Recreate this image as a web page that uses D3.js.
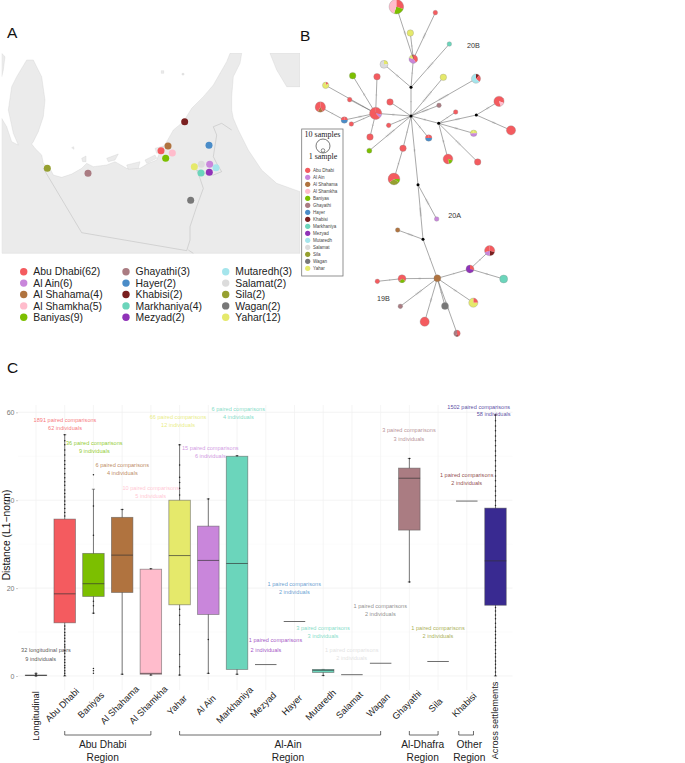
<!DOCTYPE html>
<html><head><meta charset="utf-8">
<script src="https://cdn.jsdelivr.net/npm/d3@7/dist/d3.min.js"></script>
<style>html,body{margin:0;padding:0;background:#fff}svg{display:block;font-family:"Liberation Sans",Arial,sans-serif}</style>
</head><body><svg id="c" width="685" height="763"></svg>
<script>
// ---------- settlements ----------
const settlements=["Abu Dhabi","Al Ain","Al Shahama","Al Shamkha","Baniyas","Ghayathi","Hayer","Khabisi","Markhaniya","Mezyad","Mutaredh","Salamat","Sila","Wagan","Yahar"];
const sampleCounts=[62,6,4,5,9,3,2,2,4,2,3,2,2,2,12];
const settlementColors=["#F45B5F","#C986DB","#B0733F","#FFBCCC","#7CBF00","#AA7C82","#4A8CC8","#7A1F1F","#6BD5BB","#9033B8","#A5E5EC","#DCDCDC","#96A030","#787878","#E5E96B"];
const settlementLon=[54.37,55.587,54.545,54.653,54.487,52.545,55.57,54.962,55.37,55.578,55.745,55.378,51.528,55.112,55.203];
const settlementLat=[24.455,24.145,24.561,24.402,24.281,23.94,24.577,25.114,23.948,23.963,24.069,24.145,24.054,23.327,24.092];
// ---------- base map (lon, lat) ----------
const landMain=[[50.387,25.19],[50.512,25.0],[50.637,24.66],[50.803,24.584],[50.678,24.849],[50.553,25.38],[50.637,25.91],[50.762,26.137],[51.012,26.516],[51.178,26.516],[51.387,26.137],[51.47,25.607],[51.428,25.228],[51.303,24.887],[51.178,24.66],[51.137,24.607],[51.22,24.508],[51.387,24.357],[51.428,24.167],[51.595,24.054],[51.678,23.902],[51.887,23.849],[52.137,23.925],[52.387,24.054],[52.512,24.167],[52.678,24.092],[53.012,24.13],[53.22,24.205],[53.512,24.054],[53.845,24.054],[54.053,24.167],[54.262,24.243],[54.345,24.433],[54.512,24.66],[54.678,24.925],[54.928,25.114],[55.137,25.417],[55.428,25.683],[55.678,25.948],[55.845,26.213],[56.012,26.478],[56.095,26.667],[56.387,26.667],[56.345,26.44],[56.178,26.137],[56.137,25.683],[56.137,25.38],[56.178,25.19],[56.303,24.925],[56.553,24.47],[56.887,24.016],[57.262,23.713],[57.845,23.524],[57.845,22.122],[50.387,22.122]];
const landOther=[
 [[57.095,26.667],[57.845,26.667],[57.845,25.91],[57.512,25.91],[57.262,26.289]],
 [[50.387,26.667],[50.47,26.592],[50.428,26.289],[50.387,26.137]],
 [[53.512,24.13],[53.845,24.205],[53.803,24.054],[53.553,24.031]],
 [[53.012,24.281],[53.303,24.38],[53.22,24.243],[53.053,24.205]],
 [[52.387,24.281],[52.495,24.334],[52.495,24.205],[52.412,24.205]],
 [[52.137,24.523],[52.187,24.546],[52.195,24.486]],
 [[53.97,24.243],[54.22,24.357],[54.262,24.281],[54.012,24.167]],
 [[54.22,24.508],[54.428,24.561],[54.428,24.433],[54.262,24.395]],
 [[54.378,26.273],[54.437,26.273],[54.437,26.213],[54.378,26.213]],
 [[54.895,26.213],[54.945,26.213],[54.945,26.175],[54.895,26.175]]];
const borders=[
 [[51.428,24.054],[52.387,22.592],[55.012,22.183],[55.095,22.425],[55.095,22.728],[55.262,23.183],[55.428,23.599],[55.345,23.826],[55.262,24.016]],
 [[55.262,24.016],[55.4,23.95],[55.678,23.902],[55.887,23.978],[55.762,24.167],[55.678,24.319],[55.762,24.811],[55.678,25.0],[55.887,25.077],[56.137,24.925]],
 [[55.053,22.198],[55.178,22.122]]];
// ---------- network: [id, layoutU, layoutV, samples, composition] ----------
const networkNodes=[
["n1",304,20,10,[[0,3],[4,2.5],[3,4.5]]],["n2",421,38,1,[[0,1]]],["n3",346,99,2,[[14,1]]],["n4",463,132,1,[[8,1]]],
["n5",355,177,3.5,[[0,4],[1,4],[14,1.6],[7,.4]]],["n6",267,193,3,[[14,.25],[11,.75]]],["n7",173,227,2,[[4,1]]],["n8",246,230,2,[[0,1]]],
["n9",445,232,2,[[14,1]]],["n10",543,236,4,[[7,.12],[0,.25],[10,.63]]],["n11",92,256,2,[[0,.15],[14,.85]]],["n12",76,321,5,[[0,.42],[2,.16],[0,.42]]],
["n13",164,299,1,[[0,1]]],["n14",285,306,2,[[0,1]]],["n15",432,316,1,[[5,1]]],["n16",612,304,5,[[0,.3],[3,.15],[0,.55]]],
["n17",482,336,1,[[0,1]]],["n18",242,340,7,[[0,.28],[1,.1],[0,.62]]],["n19",148,360,2,[[0,.25],[6,.5],[0,.25]]],["n20",169,372,1,[[0,1]]],
["n21",281,376,1,[[0,1]]],["n22",648,391,4,[[0,1]]],["n23",536,400,2,[[14,.25],[1,.5],[14,.25]]],["n24",401,414,2,[[0,.25],[6,.5],[0,.25]]],
["n25",225,411,2,[[0,1]]],["n26",324,445,2,[[0,1]]],["n27",223,452,1.2,[[4,1]]],["n28",459,477,4.5,[[0,.3],[4,.17],[0,.53]]],
["n29",548,486,2,[[0,1]]],["n30",297,537,6.5,[[0,.25],[4,.1],[12,.3],[0,.35]]],
["n31",425,657,1,[[1,1]]],["n32",308,690,1,[[2,1]]],["n33",584,752,5,[[0,.3],[7,.2],[1,.2],[0,.3]]],["n34",525,807,3,[[0,.3],[9,.7]]],
["n35",427,835,2.3,[[2,1]]],["n36",321,836,3,[[0,.35],[4,.25],[2,.05],[0,.35]]],["n37",247,844,1,[[0,1]]],["n38",626,837,3,[[8,1]]],
["n39",316,919,1,[[5,1]]],["n40",535,908,4,[[0,.25],[14,.75]]],["n41",450,918,2.3,[[13,1]]],["n42",389,965,4,[[0,1]]],["n43",486,1000,2,[[0,.42],[7,.1],[5,.42]]]];
const junctions=[["j1",348,262],["j2",348,348],["j3",431,370],["j4",544,345],["j5",369,554],["j6",384,718]];
const edges=[["n1","n5",3],["n3","n5",1],["n2","n5",5],["n5","j1",1],["n4","j1",8],["n6","j1",3],["j1","j2",1],["j2","n14",1],["j2","n18",2],["j2","n21",1],["j2","n9",12],["j2","n10",10],["j2","n15",6],["j2","n24",2],["j2","n27",10],["j2","n26",1],["j2","j3",2],["j2","j5",2],["n26","n30",1],["j3","j4",4],["j4","n16",3],["j4","n22",3],["j3","n17",1],["j3","n23",3],["j3","n28",2],["j3","n29",6],["n18","n7",2],["n18","n8",1],["n18","n11",2],["n18","n13",1],["n18","n19",3],["n18","n20",1],["n18","n25",1],["n19","n12",1],["j5","n31",6],["j5","j6",8],["j6","n32",5],["j6","n35",1],["n35","n34",1],["n34","n33",1],["n34","n38",2],["n35","n36",2],["n36","n37",1],["n35","n39",7],["n35","n40",3],["n35","n41",1],["n35","n42",3],["n35","n43",8]];
const cladeLabels=[["20B",535,136],["20A",479,645],["19B",265,896]];
// ---------- boxplot ----------
const boxCats=["Longitudinal","Abu Dhabi","Baniyas","Al Shahama","Al Shamkha","Yahar","Al Ain","Markhaniya","Mezyad","Hayer","Mutaredh","Salamat","Wagan","Ghayathi","Sila","Khabisi","Across settlements"];
const boxColors=["#222222","#F45B5F","#7CBF00","#B0733F","#FFBCCC","#E5E96B","#C986DB","#6BD5BB","#9033B8","#4A8CC8","#6BD5BB","#DCDCDC","#787878","#AA7C82","#96A030","#7A1F1F","#392A91"];
const q1Values=[0.1,12.1,18.1,19,0.4,16.2,14,1.5,2.6,12.4,0.8,0.3,2.9,33.2,3.3,39.8,16.1];
const medianValues=[0.15,18.7,21,27.5,0.6,27.4,26.3,25.6,2.6,12.4,1.3,0.3,2.9,45,3.3,39.8,26.2];
const q3Values=[0.2,35.7,27.9,36.1,24.3,40,34.1,50,2.6,12.4,1.5,0.3,2.9,47.3,3.3,39.8,38.2];
const whiskerLow=[0,0,14.3,0.4,0.2,0.2,0.6,0.4,2.6,12.4,0.1,0.3,2.9,21.4,3.3,39.8,0];
const whiskerHigh=[0.6,54.9,42.5,37.9,24.4,52.6,40.3,50.1,2.6,12.4,1.5,0.3,2.9,49.5,3.3,39.8,59.4];
const outlierValues=[
 [0.6,0.3,0],
 [0.1,0.6,1.2,1.9,2.4,3.1,3.7,4.4,5.2,5.8,6.6,7.1,7.9,8.6,9.3,9.9,10.7,11.4,36.4,37.2,38.1,39,39.8,40.7,41.5,42.3,43.4,44.2,45.1,46,47.2,48.1,49,50.3,51.4,52.6,53.5,54.9],
 [45.8,38.7,32,14.3,16,17,1.7,1.2,0.6],
 [0.4,37.9],[0.2,24.4],
 [0.2,2.1,4.9,11.7,13.8,15.2,41.2,42.7,44,45.2,48,52.6],
 [0.6,8.3,40.3],[0.4,50.1],[],[],[0.1],[],[],[21.4,49.5],[],[],
 [0.1,0.9,1.8,2.7,3.4,4.3,5.1,6,6.9,7.7,8.6,9.4,10.2,11.1,12,13,13.9,14.8,15.6,38.8,39.9,41,42.1,43.2,44.4,45.5,46.7,47.8,49,50.1,51.2,52.4,53.5,54.6,55.8,56.9,58.1,59.4]];
const annotLine1=["32 longitudinal pairs","1891 paired comparisons","36 paired comparisons","6 paired comparisons","10 paired comparisons","66 paired comparisons","15 paired comparisons","6 paired comparisons","1 paired comparisons","1 paired comparisons","3 paired comparisons","1 paired comparisons","1 paired comparisons","3 paired comparisons","1 paired comparisons","1 paired comparisons","1502 paired comparisons"];
const annotLine2=["9 individuals","62 individuals","9 individuals","4 individuals","5 individuals","12 individuals","6 individuals","4 individuals","2 individuals","2 individuals","3 individuals","2 individuals","2 individuals","3 individuals","2 individuals","2 individuals","58 individuals"];
const annotLayout=[[46,650,40.7,658.5],[65,420,65,428],[94.3,443.3,94.3,451.3],[122.3,465,122.3,473],[150.7,488,150.7,495.7],[178,416.7,178,424.7],[210.3,447.7,210.3,455.7],[238.3,408.7,238.3,416.7],[275.5,640.3,266,650],[294.3,584.3,294.3,592.3],[323,628.3,323,636.3],[351.7,650,351.7,658],[380.3,606,380.3,614],[409,430.3,409,438.7],[438,628.3,438,636.3],[466.7,474.7,466.7,482.7],[478.7,406.7,493.7,414.3]];
const regions=[["Abu Dhabi","Abu Dhabi","Al Shamkha",102.7],["Al-Dhafra","Ghayathi","Sila",422.7],["Al-Ain","Yahar","Wagan",288],["Other","Khabisi","Khabisi",469.3]];
const yTicks=[0,20,40,60];
const yMinorGrid=[10,30,50];

const svg=d3.select("#c");
const clr=i=>settlementColors[i];
function letter(t,x,y){svg.append("text").attr("x",x).attr("y",y).attr("font-size",15.5).attr("fill","#111").text(t);}
letter("A",7,38);letter("B",300,41);letter("C",7,373);

// ===== Panel A =====
const lonX=d3.scaleLinear().domain([50.345,57.845]).range([0,300]);
const latY=d3.scaleLinear().domain([27.88,22.88]).range([0,220]);
svg.append("clipPath").attr("id","mapclip").append("rect").attr("x",1.7).attr("y",53).attr("width",298.3).attr("height",201);
const mapG=svg.append("g").attr("clip-path","url(#mapclip)");
const geoLine=d3.line().x(d=>lonX(d[0])).y(d=>latY(d[1])).curve(d3.curveLinear);
[landMain,...landOther].forEach(p=>mapG.append("path").attr("d",geoLine(p)+"Z").attr("fill","#EBEBEB").attr("stroke","#c8c8c8").attr("stroke-width",.3));
borders.forEach(p=>mapG.append("path").attr("d",geoLine(p)).attr("fill","none").attr("stroke","#b4b4b4").attr("stroke-width",.45));
mapG.selectAll("circle.s").data(settlements).join("circle").attr("class","s")
 .attr("cx",(d,i)=>lonX(settlementLon[i])).attr("cy",(d,i)=>latY(settlementLat[i])).attr("r",3.5).attr("fill",(d,i)=>clr(i));
const legCol=d3.scaleOrdinal().domain([0,1,2]).range([23.7,126,225.7]);
const legY=d3.scaleLinear().domain([0,4]).range([271.7,317.3]);
settlements.forEach((s,i)=>{
  const c=Math.floor(i/5),r=i%5,x=legCol(c);
  svg.append("circle").attr("cx",x).attr("cy",legY(r)).attr("r",3.7).attr("fill",clr(i));
  svg.append("text").attr("x",x+9.6).attr("y",legY(r)+3.6).attr("font-size",10.4).attr("fill","#222").text(`${s}(${sampleCounts[i]})`);
});

// ===== Panel B =====
const netX=d3.scaleLinear().domain([0,240*3]).range([295,535]);
const netY=d3.scaleLinear().domain([0,1050]).range([0,350]);
const netR=d3.scaleSqrt().domain([0,10]).range([0,7.3]);
const pos={};
networkNodes.forEach(n=>pos[n[0]]=[netX(n[1]),netY(n[2])]);
junctions.forEach(n=>pos[n[0]]=[netX(n[1]),netY(n[2])]);
const netG=svg.append("g");
edges.forEach(([a,b,m])=>{
  const [x1,y1]=pos[a],[x2,y2]=pos[b];
  netG.append("line").attr("x1",x1).attr("y1",y1).attr("x2",x2).attr("y2",y2).attr("stroke","#6e6e6e").attr("stroke-width",.6);
  const L=Math.hypot(x2-x1,y2-y1),ux=(x2-x1)/L,uy=(y2-y1)/L;
  for(let k=0;k<m;k++){
    const t=L/2+(k-(m-1)/2)*1.1,cx=x1+ux*t,cy=y1+uy*t;
    netG.append("line").attr("x1",cx-uy*1).attr("y1",cy+ux*1).attr("x2",cx+uy*1).attr("y2",cy-ux*1).attr("stroke","#8a8a8a").attr("stroke-width",.3);
  }
});
const pie=d3.pie().sort(null).value(d=>d[1]);
const arc=d3.arc().innerRadius(0);
networkNodes.forEach(n=>{
  const g=netG.append("g").attr("transform",`translate(${pos[n[0]]})`),r=netR(n[3]);
  g.selectAll("path").data(pie(n[4])).join("path").attr("d",d=>arc.outerRadius(r)(d)).attr("fill",d=>clr(d.data[0]));
  g.append("circle").attr("r",r).attr("fill","none").attr("stroke","#8a8a8a").attr("stroke-width",.3);
});
junctions.forEach(n=>netG.append("circle").attr("cx",pos[n[0]][0]).attr("cy",pos[n[0]][1]).attr("r",1.5).attr("fill","#000"));
cladeLabels.forEach(l=>svg.append("text").attr("x",netX(l[1])).attr("y",netY(l[2])+2.5).attr("text-anchor","middle").attr("font-size",7.2).attr("fill","#333").text(l[0]));
// network legend
const lg=svg.append("g");
lg.append("rect").attr("x",301.7).attr("y",129).attr("width",41.3).attr("height",147).attr("fill","#fff").attr("stroke","#777").attr("stroke-width",.8);
lg.append("text").attr("x",322.5).attr("y",137).attr("text-anchor","middle").attr("font-family","Liberation Serif").attr("font-size",8).attr("fill","#222").text("10 samples");
lg.append("circle").attr("cx",323).attr("cy",146).attr("r",7).attr("fill","none").attr("stroke","#222").attr("stroke-width",.6);
lg.append("circle").attr("cx",323).attr("cy",150.5).attr("r",1.8).attr("fill","none").attr("stroke","#222").attr("stroke-width",.5);
lg.append("text").attr("x",323).attr("y",159).attr("text-anchor","middle").attr("font-family","Liberation Serif").attr("font-size",8).attr("fill","#222").text("1 sample");
const nlY=d3.scaleLinear().domain([0,14]).range([170.3,268.3]);
settlements.forEach((s,i)=>{
  lg.append("circle").attr("cx",307.7).attr("cy",nlY(i)).attr("r",2.6).attr("fill",clr(i));
  lg.append("text").attr("x",313).attr("y",nlY(i)+1.6).attr("font-size",4.5).attr("fill","#444").text(s);
});

// ===== Panel C =====
const x=d3.scalePoint().domain(boxCats).range([36,495.5]);
const y=d3.scaleLinear().domain([0,60]).range([676,412.3]);
const bw=21.5;
const grid=svg.append("g");
yTicks.forEach(v=>grid.append("line").attr("x1",18).attr("x2",512.5).attr("y1",y(v)).attr("y2",y(v)).attr("stroke","#efefef").attr("stroke-width",.7));
yMinorGrid.forEach(v=>grid.append("line").attr("x1",18).attr("x2",512.5).attr("y1",y(v)).attr("y2",y(v)).attr("stroke","#f6f6f6").attr("stroke-width",.5));
boxCats.forEach(c=>grid.append("line").attr("x1",x(c)).attr("x2",x(c)).attr("y1",405).attr("y2",690).attr("stroke","#f1f1f1").attr("stroke-width",.7));
const yAxis=d3.axisLeft(y).tickValues(yTicks).tickSize(2).tickPadding(1.5);
const ya=svg.append("g").attr("transform","translate(18,0)").call(yAxis);
ya.select(".domain").remove();
ya.selectAll("line").attr("stroke","#999").attr("stroke-width",.5);
ya.selectAll("text").attr("font-size",7).attr("fill","#777").attr("font-family","Liberation Sans");
svg.append("text").attr("transform","translate(10,535) rotate(-90)").attr("text-anchor","middle").attr("font-size",10.3).attr("fill","#111").text("Distance (L1\u2212norm)");

const boxes=svg.append("g");
boxCats.forEach((c,i)=>{
  const cx=x(c),col=boxColors[i];
  boxes.append("line").attr("x1",cx).attr("x2",cx).attr("y1",y(whiskerLow[i])).attr("y2",y(whiskerHigh[i])).attr("stroke","#555").attr("stroke-width",.8);
  if(whiskerHigh[i]>whiskerLow[i]){[whiskerLow[i],whiskerHigh[i]].forEach(v=>boxes.append("line").attr("x1",cx-1.6).attr("x2",cx+1.6).attr("y1",y(v)).attr("y2",y(v)).attr("stroke","#444").attr("stroke-width",.6));}
  const h=y(q1Values[i])-y(q3Values[i]);
  if(h>0.01){
    boxes.append("rect").attr("x",cx-bw/2).attr("y",y(q3Values[i])).attr("width",bw).attr("height",h).attr("fill",col).attr("stroke","#555").attr("stroke-opacity",.6).attr("stroke-width",.8);
  }
  boxes.append("line").attr("x1",cx-bw/2).attr("x2",cx+bw/2).attr("y1",y(medianValues[i])).attr("y2",y(medianValues[i])).attr("stroke","#333").attr("stroke-opacity",h>0.01?.75:.8).attr("stroke-width",.9);
  outlierValues[i].forEach(v=>boxes.append("circle").attr("cx",cx).attr("cy",y(v)).attr("r",.75).attr("fill","#222"));
});
// annotations
boxCats.forEach((c,i)=>{
  const col=i===0?"#333":boxColors[i],[x1,y1,x2,y2]=annotLayout[i];
  const a=svg.append("g").attr("font-size",5.6).attr("fill",col).attr("text-anchor","middle").attr("fill-opacity",.85);
  a.append("text").attr("x",x1).attr("y",y1+2).text(annotLine1[i]);
  a.append("text").attr("x",x2).attr("y",y2+2).text(annotLine2[i]);
});
// x axis labels
const xa=svg.append("g").attr("transform","translate(0,676)").call(d3.axisBottom(x).tickSize(0));
xa.select(".domain").remove();
xa.selectAll("text").attr("font-size",9.2).attr("fill","#222").attr("font-family","Liberation Sans").attr("text-anchor","middle").attr("dy",0).attr("y",0)
 .attr("dominant-baseline","middle")
 .attr("transform",d=>{
   if(d==="Longitudinal")return "translate(0,40) rotate(-90)";
   if(d==="Across settlements")return "translate(-0.5,44.5) rotate(-90)";
   return "translate(-2.5,29.5) rotate(-45)";
 });
// regions
const rg=svg.append("g");
regions.forEach(([name,a,b,tx])=>{
  const x0=x(a),x1=a===b?x(a)+6.7:x(b),xs=a===b?x(a)-8:x0;
  rg.append("path").attr("d",d3.line()([[xs,731],[xs,735],[x1,735],[x1,731]])).attr("fill","none").attr("stroke","#444").attr("stroke-width",.8);
  rg.append("text").attr("x",tx).attr("y",748).attr("text-anchor","middle").attr("font-size",10.2).attr("fill","#222").text(name);
  rg.append("text").attr("x",tx).attr("y",761).attr("text-anchor","middle").attr("font-size",10.2).attr("fill","#222").text("Region");
});
</script></body></html>
